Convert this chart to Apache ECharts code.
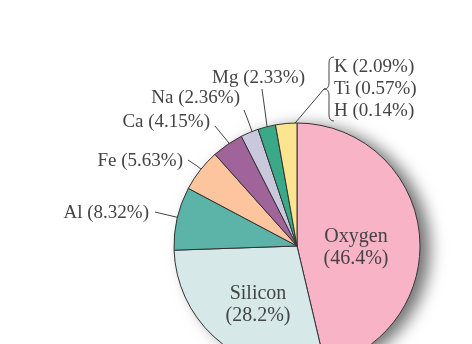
<!DOCTYPE html>
<html>
<head>
<meta charset="utf-8">
<script src="https://cdn.jsdelivr.net/npm/echarts@6/dist/echarts.min.js"></script>
<style>
html,body{margin:0;padding:0;background:#fff;}
#chart{width:472px;height:344px;}
</style>
</head>
<body>
<div id="chart"></div>
<script>
// ---- data ----
const names = ['Oxygen', 'Silicon', 'Al', 'Fe', 'Ca', 'Na', 'Mg', 'K/Ti/H'];
const values = [46.4, 28.2, 8.32, 5.63, 4.15, 2.36, 2.33, 2.80];
const minorNames = ['K', 'Ti', 'H'];
const minorValues = [2.09, 0.57, 0.14];
const colors = ['#f8b3c6', '#d6e8e8', '#5cb3a7', '#fdc59d', '#a0639a', '#c9c8dc', '#3ba987', '#fde58f'];

// ---- label layout (positions only) ----
const labelPos = [
  {x: 356, y: 248, align: 'center', line: null},
  {x: 258, y: 305, align: 'center', line: null},
  {x: 149, y: 213, align: 'right', line: [[155, 212], [176, 217], [198, 222]]},
  {x: 183, y: 161, align: 'right', line: [[188, 160], [197, 166], [206, 173]]},
  {x: 210, y: 122, align: 'right', line: [[215, 126], [224, 137], [233, 148]]},
  {x: 240, y: 98, align: 'right', line: [[244, 110], [249, 123], [254, 137]]},
  {x: 305, y: 78, align: 'right', line: [[262, 89], [265, 111], [268, 134]]},
  {x: 334, y: 89, align: 'left', line: [[324, 89], [307, 109], [290, 129]]}
];

function fmt(v) { return String(v); }

const data = names.map((n, i) => {
  const item = {name: n, value: values[i], itemStyle: {color: colors[i]}};
  if (i < 2) {
    item.label = {fontSize: 20};
    item.labelLine = {show: false};
  }
  return item;
});

const braceStyle = {fill: 'none', stroke: '#444', lineWidth: 1};
const chart = echarts.init(document.getElementById('chart'));
chart.setOption({
  animation: false,
  backgroundColor: '#ffffff',
  series: [
    {
      type: 'pie',
      silent: true,
      center: [297, 246],
      radius: 123,
      z: 1,
      data: [{value: 1, itemStyle: {color: '#ffffff', shadowBlur: 16, shadowOffsetX: 10, shadowOffsetY: 3, shadowColor: 'rgba(0,0,0,0.55)'}}],
      label: {show: false},
      labelLine: {show: false}
    },
    {
      type: 'pie',
      center: [297, 246],
      radius: 123,
      startAngle: 90,
      clockwise: true,
      z: 2,
      avoidLabelOverlap: false,
      itemStyle: {borderColor: '#333', borderWidth: 1},
      data: data,
      label: {
        show: true,
        position: 'outside',
        fontFamily: 'Liberation Serif',
        fontSize: 19,
        color: '#444',
        lineHeight: 22,
        formatter: function (p) {
          const i = p.dataIndex;
          if (i < 2) return p.name + '\n(' + fmt(p.value) + '%)';
          if (i === names.length - 1) {
            return minorNames.map((n, k) => n + ' (' + fmt(minorValues[k]) + '%)').join('\n');
          }
          return p.name + ' (' + fmt(p.value) + '%)';
        }
      },
      labelLine: {show: true, length: 10, length2: 10, lineStyle: {color: '#444', width: 1}},
      labelLayout: function (params) {
        const p = labelPos[params.dataIndex];
        const r = {x: p.x, y: p.y, align: p.align, verticalAlign: 'middle'};
        if (p.line) r.labelLinePoints = p.line;
        return r;
      }
    }
  ],
  graphic: [
    {type: 'bezierCurve', z: 10, shape: {x1: 334, y1: 57, x2: 329, y2: 63, cpx1: 329, cpy1: 57}, style: braceStyle},
    {type: 'line', z: 10, shape: {x1: 329, y1: 63, x2: 329, y2: 83}, style: braceStyle},
    {type: 'bezierCurve', z: 10, shape: {x1: 329, y1: 83, x2: 324, y2: 89, cpx1: 329, cpy1: 89}, style: braceStyle},
    {type: 'bezierCurve', z: 10, shape: {x1: 324, y1: 89, x2: 329, y2: 95, cpx1: 329, cpy1: 89}, style: braceStyle},
    {type: 'line', z: 10, shape: {x1: 329, y1: 95, x2: 329, y2: 115}, style: braceStyle},
    {type: 'bezierCurve', z: 10, shape: {x1: 329, y1: 115, x2: 334, y2: 121, cpx1: 329, cpy1: 121}, style: braceStyle}
  ]
});
</script>
</body>
</html>
